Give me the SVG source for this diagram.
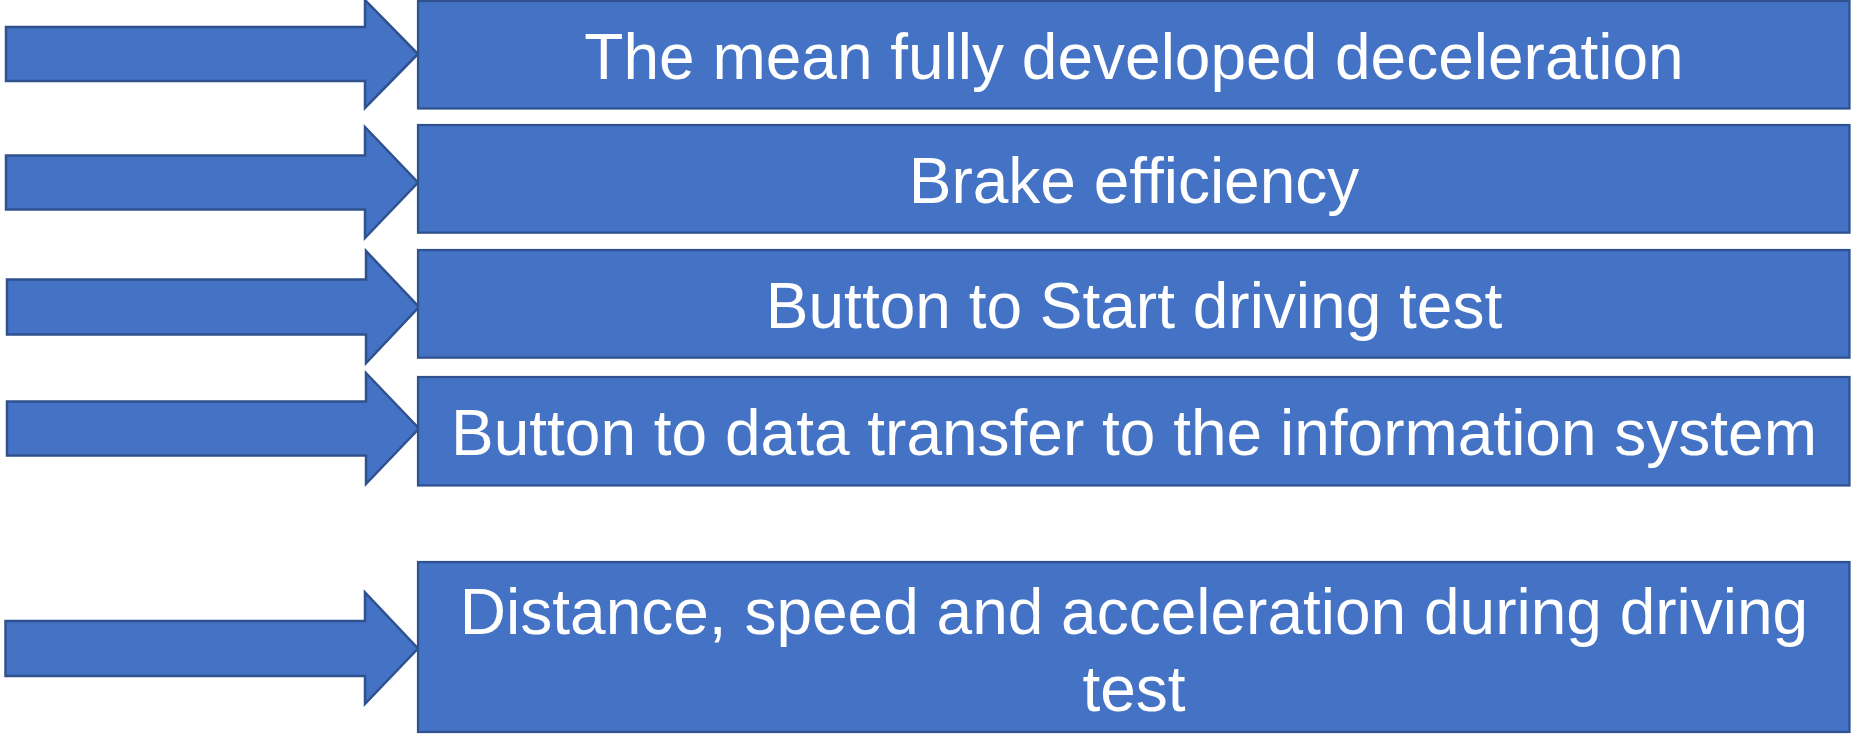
<svg xmlns="http://www.w3.org/2000/svg" width="1852" height="735" viewBox="0 0 1852 735">
<style>
.box{fill:#4472C4;stroke:#2F528F;stroke-width:2.2}
.arr{fill:#4472C4;stroke:#2F528F;stroke-width:2.5;stroke-linejoin:miter}
.lbl{font-family:"Liberation Sans",Arial,sans-serif;font-size:64px;fill:#FFFFFF;text-anchor:middle;font-variant-ligatures:none;font-feature-settings:"liga" 0}
</style>
<rect width="1852" height="735" fill="#FFFFFF"/>
<g id="connectors">
<polygon class="arr" points="6,27 365,27 365,0 418,54 365,108 365,81 6,81"/>
<polygon class="arr" points="6,155.5 365,155.5 365,127 418,182.5 365,238 365,209.5 6,209.5"/>
<polygon class="arr" points="7,279.5 366,279.5 366,251 419,307 366,363 366,334.5 7,334.5"/>
<polygon class="arr" points="7,401.5 366,401.5 366,373 419,428.5 366,484 366,455.5 7,455.5"/>
<polygon class="arr" points="5.5,621 365,621 365,592.5 418,648.5 365,704 365,676 5.5,676"/>
</g>
<g id="node1">
<rect class="box" x="418" y="1" width="1431.5" height="107.5"/>
<text class="lbl" x="1134" y="79">The mean fully developed deceleration</text>
</g>
<g id="node2">
<rect class="box" x="418" y="125" width="1431.5" height="107.7"/>
<text class="lbl" x="1134" y="203">Brake efficiency</text>
</g>
<g id="node3">
<rect class="box" x="418" y="250" width="1431.5" height="107.7"/>
<text class="lbl" x="1134" y="328">Button to Start driving test</text>
</g>
<g id="node4">
<rect class="box" x="418" y="377" width="1431.5" height="108.5"/>
<text class="lbl" x="1134" y="455">Button to data transfer to the information system</text>
</g>
<g id="node5">
<rect class="box" x="418" y="562" width="1431.5" height="170"/>
<text class="lbl" x="1134" y="634">Distance, speed and acceleration during driving</text>
<text class="lbl" x="1134" y="710.5">test</text>
</g>
</svg>
